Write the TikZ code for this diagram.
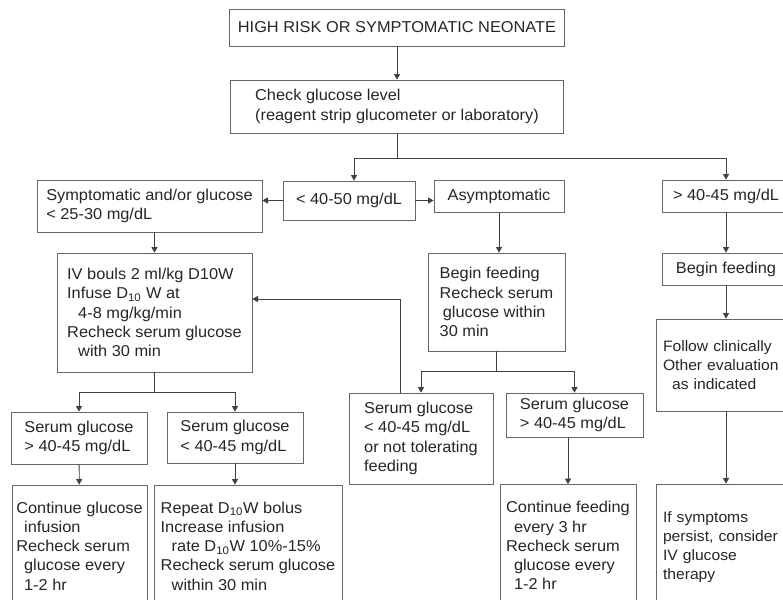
\documentclass[tikz,border=0pt]{standalone}
\usepackage{fontspec}
\setmainfont[FakeStretch=1.04]{Liberation Sans}
\usetikzlibrary{arrows.meta}
\begin{document}
\begin{tikzpicture}[x=0.75pt,y=-0.75pt,
  box/.style={draw=black!60, line width=0.6pt, align=left, inner sep=2pt,
    font=\fontsize{11.8}{14.4}\selectfont, text=black!85},
  rbox/.style={box, text width=126*0.75pt, font=\fontsize{11.3}{14.4}\selectfont},
  wh/.style 2 args={minimum width=#1*0.75pt, minimum height=#2*0.75pt},
  ln/.style={draw=black!75, line width=0.6pt},
  arr/.style={ln, -{Triangle[length=4.2pt,width=4.6pt]}}]
\useasboundingbox (0,0) rectangle (783,600);
\fill[white] (0,0) rectangle (783,600);
\clip (0,0) rectangle (783,600);

% nodes
\node[box, wh={335}{37}] (top) at (397,27.5) {HIGH RISK OR SYMPTOMATIC NEONATE};
\node[box, wh={333}{53}] (check) at (397,106.5) {Check glucose level\\(reagent strip glucometer or laboratory)};
\node[box, wh={132}{39}] (lt) at (349,200.5) {< 40-50 mg/dL};
\node[box, wh={225}{52}] (sym) at (149.5,206) {Symptomatic and/or glucose\\< 25-30 mg/dL};
\node[box, wh={130}{32}] (asym) at (499,196) {Asymptomatic};
\node[box, wh={128}{32}] (gt1) at (726,196) {> 40-45 mg/dL};
\node[box, wh={195}{119}] (iv) at (154.5,312.5) {IV bouls 2 ml/kg D10W\\Infuse D\textsubscript{10} W at\\\hspace*{0.7em}4-8 mg/kg/min\\Recheck serum glucose\\\hspace*{0.7em}with 30 min};
\node[box, wh={137}{98}] (feed1) at (496.5,302) {Begin feeding\\Recheck serum\\\hspace*{0.2em}glucose within\\30 min};
\node[box, wh={128}{32}] (feed2) at (726,269) {Begin feeding};
\node[rbox, wh={139}{92}] (follow) at (726,365) {Follow clinically\\Other evaluation\\\hspace*{0.6em}as indicated};
\node[rbox, wh={140}{126}] (symp) at (726,547) {If symptoms\\persist, consider\\IV glucose\\therapy};
\node[box, wh={136}{52}] (sg1) at (79,438) {Serum glucose\\> 40-45 mg/dL};
\node[box, wh={136}{51}] (sg2) at (235,437.5) {Serum glucose\\< 40-45 mg/dL};
\node[box, wh={135}{122}] (cont) at (79.5,546) {Continue glucose\\\hspace*{0.5em}infusion\\Recheck serum\\\hspace*{0.5em}glucose every\\\hspace*{0.5em}1-2 hr};
\node[box, wh={188}{122}] (rep) at (248,546) {Repeat D\textsubscript{10}W bolus\\Increase infusion\\\hspace*{0.7em}rate D\textsubscript{10}W 10\%-15\%\\Recheck serum glucose\\\hspace*{0.7em}within 30 min};
\node[box, wh={144}{91}] (sg3) at (421,438.5) {Serum glucose\\< 40-45 mg/dL\\or not tolerating\\feeding};
\node[box, wh={137}{44}] (sg4) at (574.5,415) {Serum glucose\\> 40-45 mg/dL};
\node[box, wh={136}{122}] (cf) at (568,545.5) {Continue feeding\\\hspace*{0.5em}every 3 hr\\Recheck serum\\\hspace*{0.5em}glucose every\\\hspace*{0.5em}1-2 hr};

% junction coordinates
\coordinate (sL) at (354,158);
\coordinate (sR) at (726,158);
\coordinate (ivs) at (154.5,392);
\coordinate (fs) at (496.5,371);
\coordinate (fb) at (400,299);

% connectors
\draw[arr] (top) -- (check);
\draw[ln] (check.south) -- (check.south |- sL);
\draw[ln] (sL) -- (sR);
\draw[arr] (sL) -- (sL |- lt.north);
\draw[arr] (sR) -- (sR |- gt1.north);
\draw[arr] (lt.west) -- (lt.west -| sym.east);
\draw[arr] (lt.east) -- (lt.east -| asym.west);
\draw[arr] (sym.south -| iv.north) -- (iv.north);
\draw[arr] (asym.south) -- (asym.south |- feed1.north);
\draw[arr] (gt1) -- (feed2);
\draw[arr] (feed2) -- (follow);
\draw[arr] (follow) -- (symp);
% IV split
\draw[ln] (iv.south) -- (ivs);
\draw[ln] (ivs -| sg1.north) -- (ivs -| sg2.north);
\draw[arr] (ivs -| sg1.north) -- (sg1.north);
\draw[arr] (ivs -| sg2.north) -- (sg2.north);
\draw[arr] (sg1) -- (cont);
\draw[arr] (sg2.south) -- (sg2.south |- rep.north);
% feed split
\draw[ln] (feed1.south) -- (fs);
\draw[ln] (fs -| sg3.north) -- (fs -| sg4.north);
\draw[arr] (fs -| sg3.north) -- (sg3.north);
\draw[arr] (fs -| sg4.north) -- (sg4.north);
\draw[arr] (cf.north |- sg4.south) -- (cf.north);
% feedback
\draw[arr] (fb |- sg3.north) -- (fb) -- (fb -| iv.east);
\end{tikzpicture}
\end{document}
